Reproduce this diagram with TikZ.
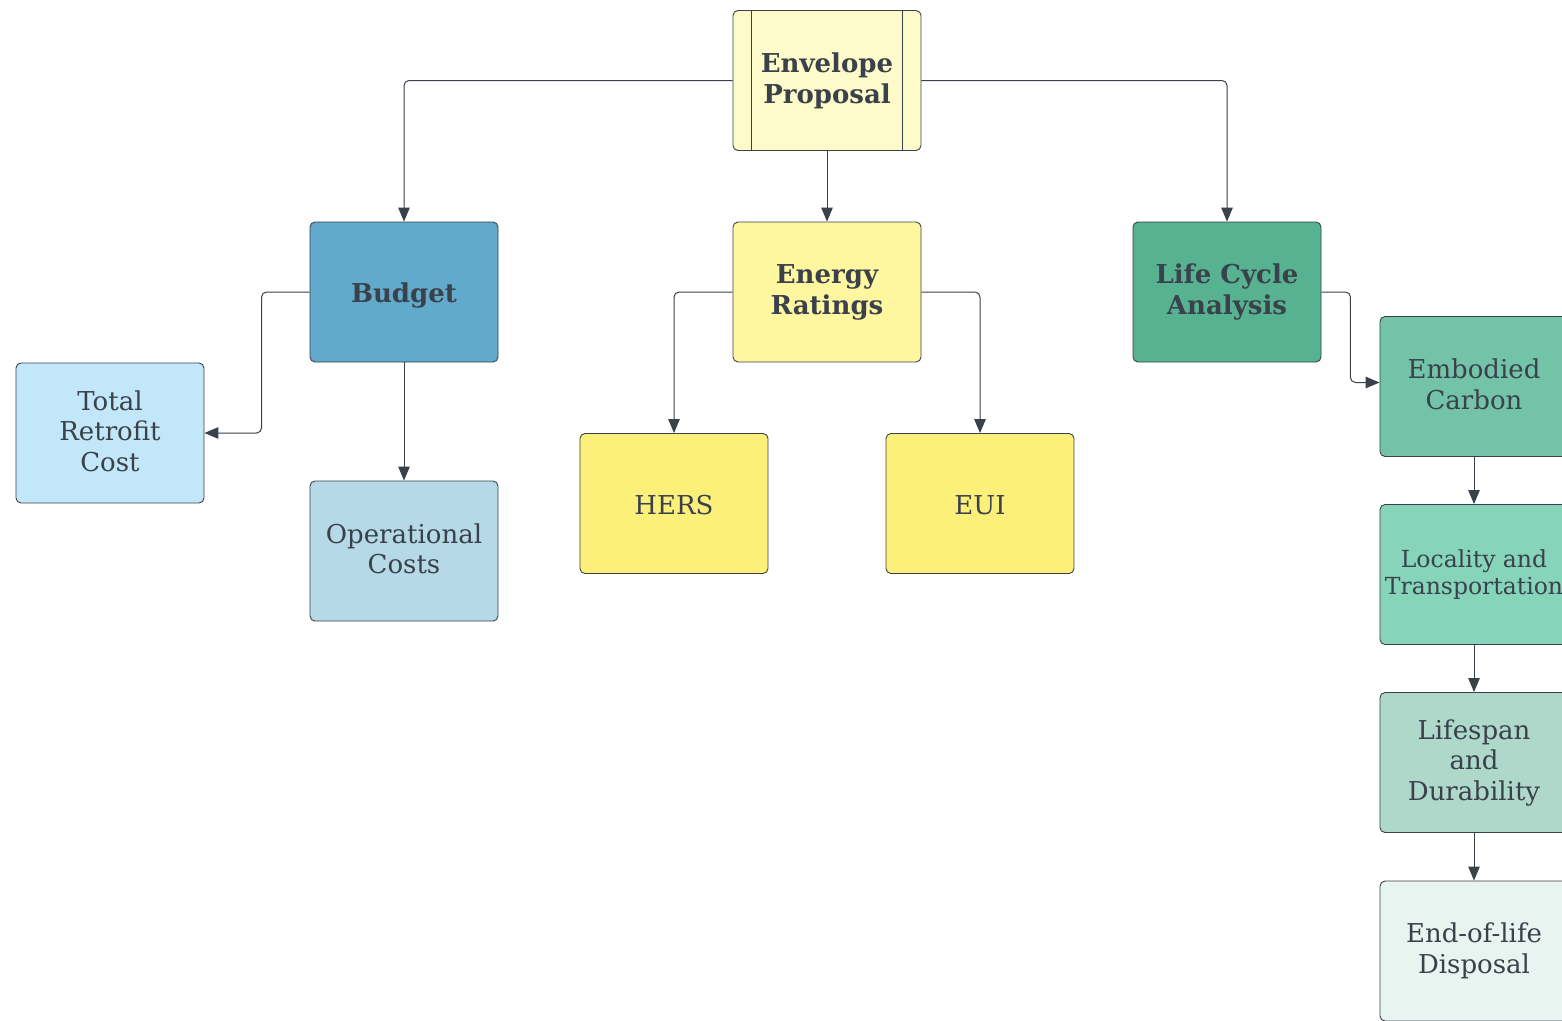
\documentclass[tikz,border=0pt]{standalone}
\usepackage{fontspec}
\setmainfont{DejaVu Serif}
\usetikzlibrary{arrows.meta}
\definecolor{txt}{HTML}{3A414A}
\definecolor{edge}{HTML}{3A414A}
\definecolor{cEnv}{HTML}{FDFBC9}
\definecolor{cEner}{HTML}{FFF6A0}
\definecolor{cHers}{HTML}{FCF07B}
\definecolor{cBud}{HTML}{61AACB}
\definecolor{cTrc}{HTML}{C2E7F8}
\definecolor{cOpc}{HTML}{B5D9E6}
\definecolor{cLca}{HTML}{57B292}
\definecolor{cEmb}{HTML}{72C3A7}
\definecolor{cLoc}{HTML}{86D4B9}
\definecolor{cLife}{HTML}{AED8CA}
\definecolor{cEol}{HTML}{E8F4F0}
\tikzset{
  box/.style={draw=edge, line width=0.9pt, rounded corners=5pt,
    minimum width=188pt, minimum height=140pt, inner sep=0pt,
    align=center, text=txt, font=\fontsize{26}{30.5}\selectfont,
    execute at begin node={\rule[-4.5pt]{0pt}{31pt}},
    execute at end node={\rule[-4.5pt]{0pt}{31pt}}},
  boldbox/.style={box, font=\fontsize{26}{31}\selectfont\bfseries},
  smallbox/.style={box, font=\fontsize{23.5}{27}\selectfont,
    execute at begin node={\rule[-4pt]{0pt}{27pt}},
    execute at end node={\rule[-4pt]{0pt}{27pt}}},
  conn/.style={draw=edge, line width=1pt, rounded corners=5pt,
    -{Triangle[length=14pt,width=11.5pt]}},
}
\begin{document}
\begin{tikzpicture}[x=1pt,y=-1pt]
\useasboundingbox (0,0) rectangle (1562,1020);
% nodes
\node[boldbox, fill=cEnv] (env) at (827,80.5) {Envelope\\Proposal};
\draw[edge, line width=0.9pt] ([xshift=19pt]env.north west) -- ([xshift=19pt]env.south west)
  ([xshift=-19pt]env.north east) -- ([xshift=-19pt]env.south east);
\node[boldbox, fill=cBud] (bud) at (404,292) {Budget};
\node[boldbox, fill=cEner] (ener) at (827,292) {Energy\\Ratings};
\node[boldbox, fill=cLca] (lca) at (1227,292) {Life Cycle\\Analysis};
\node[box, fill=cTrc] (trc) at (110,433) {Total\\Retrofit\\Cost};
\node[box, fill=cOpc] (opc) at (404,551) {Operational\\Costs};
\node[box, fill=cHers] (hers) at (674,503.5) {HERS};
\node[box, fill=cHers] (eui) at (980,503.5) {EUI};
\node[box, fill=cEmb] (emb) at (1474,386.5) {Embodied\\Carbon};
\node[smallbox, fill=cLoc] (loc) at (1474,574.5) {Locality and\\Transportation};
\node[box, fill=cLife] (life) at (1474,762.5) {Lifespan\\and\\Durability};
\node[box, fill=cEol] (eol) at (1474,951) {End-of-life\\Disposal};
% connectors
\draw[conn] (env.west) -| (bud.north);
\draw[conn] (env.south) -- (ener.north);
\draw[conn] (env.east) -| (lca.north);
\draw[conn] (bud.west) -- ++(-48,0) |- (trc.east);
\draw[conn] (bud.south) -- (opc.north);
\draw[conn] (ener.west) -| (hers.north);
\draw[conn] (ener.east) -| (eui.north);
\draw[conn] (lca.east) -- ++(29,0) |- ([yshift=4pt]emb.west);
\draw[conn] (emb.south) -- (loc.north);
\draw[conn] (loc.south) -- (life.north);
\draw[conn] (life.south) -- (eol.north);
\end{tikzpicture}
\end{document}
